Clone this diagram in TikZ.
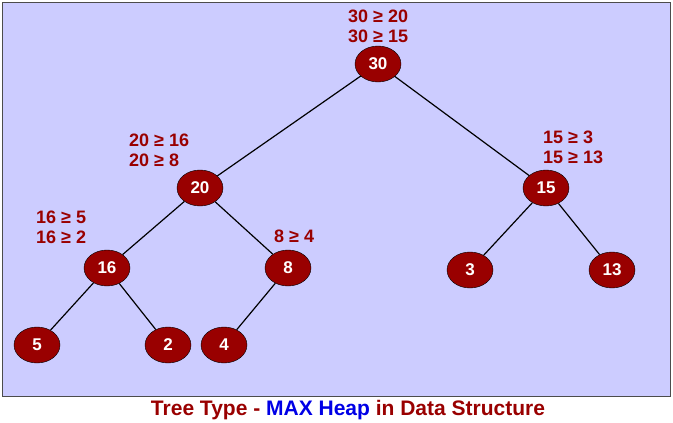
\documentclass[tikz,border=0pt]{standalone}
\usepackage{fontspec}
\setmainfont{Liberation Sans}
\usetikzlibrary{shapes.geometric}
\definecolor{bg}{RGB}{204,204,255}
\definecolor{nd}{RGB}{153,0,0}
\definecolor{tx}{RGB}{153,0,0}
\definecolor{bl}{RGB}{0,0,230}
\begin{document}
\begin{tikzpicture}[x=1pt,y=-1pt,
 hn/.style={ellipse,draw=black,fill=nd,text=white,font=\fontsize{17}{19}\selectfont\bfseries,minimum width=46pt,minimum height=36pt,inner sep=0pt},
 lb/.style={text=tx,font=\fontsize{18}{20}\selectfont\bfseries,align=left,inner sep=0pt},
 ed/.style={draw=black,line width=1.2pt}]
\useasboundingbox (0,0) rectangle (673,423);
\draw[fill=bg,draw=black!70] (2,2) rectangle (670,396);
\node[hn] (n30) at (378,64) {30};
\node[hn] (n20) at (200,188) {20};
\node[hn] (n15) at (546,188) {15};
\node[hn] (n16) at (107,268) {16};
\node[hn] (n8) at (288,268) {8};
\node[hn] (n3) at (470,270) {3};
\node[hn] (n13) at (612,270) {13};
\node[hn] (n5) at (37,345) {5};
\node[hn] (n2) at (168,345) {2};
\node[hn] (n4) at (224,345) {4};
\draw[ed] (n30)--(n20); \draw[ed] (n30)--(n15);
\draw[ed] (n20)--(n16); \draw[ed] (n20)--(n8);
\draw[ed] (n15)--(n3); \draw[ed] (n15)--(n13);
\draw[ed] (n16)--(n5); \draw[ed] (n16)--(n2);
\draw[ed] (n8)--(n4);
\node[lb,anchor=west] (l30) at (348,26) {30 ≥ 20\\30 ≥ 15};
\node[lb,anchor=west] (l20) at (129,150) {20 ≥ 16\\20 ≥ 8};
\node[lb,anchor=west] (l15) at (543,147) {15 ≥ 3\\15 ≥ 13};
\node[lb,anchor=west] (l16) at (36,227) {16 ≥ 5\\16 ≥ 2};
\node[lb,anchor=west] (l8) at (274,236) {8 ≥ 4};
\node[font=\fontsize{21}{23}\selectfont\bfseries,text=tx] (title) at (348,410) {Tree Type - \textcolor{bl}{MAX Heap} in Data Structure};
\end{tikzpicture}
\end{document}
